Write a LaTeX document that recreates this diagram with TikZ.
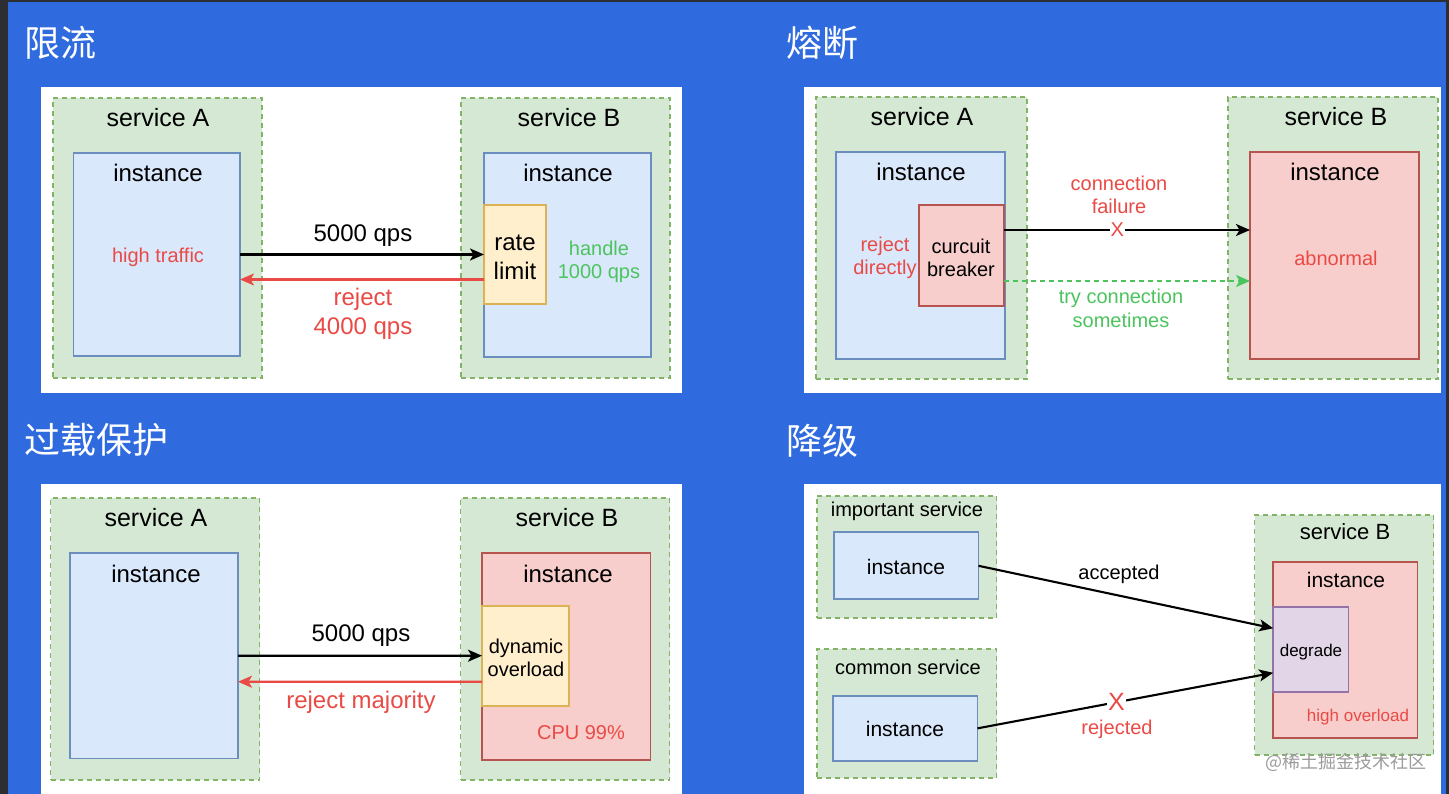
\documentclass[tikz,border=0pt]{standalone}
\usepackage{fontspec}
\setmainfont{Liberation Sans}
\newfontfamily\cjk{Noto Sans CJK SC}
\usetikzlibrary{arrows.meta}
\definecolor{frame}{HTML}{2C2E31}
\definecolor{bgblue}{HTML}{2F6BDF}
\definecolor{svcfill}{HTML}{D5E8D4}
\definecolor{svcline}{HTML}{82B366}
\definecolor{instfill}{HTML}{DAE8FC}
\definecolor{instline}{HTML}{6C8EBF}
\definecolor{badfill}{HTML}{F8CECC}
\definecolor{badline}{HTML}{B85450}
\definecolor{gatefill}{HTML}{FFEFCC}
\definecolor{gateline}{HTML}{DDB254}
\definecolor{degfill}{HTML}{E1D5E7}
\definecolor{degline}{HTML}{9673A6}
\definecolor{redtxt}{HTML}{EA4A45}
\definecolor{greentxt}{HTML}{4CC45E}
\definecolor{wmark}{HTML}{9C9C9C}
\newcommand\mybox[6]{%
  \node[#1, minimum width={(#5)-(#3)}, minimum height={(#6)-(#4)}, inner sep=0pt, outer sep=0pt]
    (#2) at ({((#3)+(#5))/2},{((#4)+(#6))/2}) {};}
\begin{document}
\begin{tikzpicture}[x=1pt,y=-1pt,
  panel/.style={fill=white, draw=none},
  svc/.style={fill=svcfill, draw=svcline, dash pattern=on 5pt off 4pt, line width=1.7pt},
  inst/.style={fill=instfill, draw=instline, line width=1.7pt},
  bad/.style={fill=badfill, draw=badline, line width=1.7pt},
  gate/.style={fill=gatefill, draw=gateline, line width=1.7pt},
  deg/.style={fill=degfill, draw=degline, line width=1.7pt},
  title/.style={anchor=west, text=white, inner sep=0pt, font=\cjk\fontsize{36}{40}\selectfont},
  big/.style={inner sep=0pt, align=center, font=\fontsize{25}{29}\selectfont},
  mid/.style={inner sep=0pt, align=center, font=\fontsize{24}{29}\selectfont},
  sml/.style={inner sep=0pt, align=center, font=\fontsize{20}{23}\selectfont},
  tiny/.style={inner sep=0pt, align=center, font=\fontsize{17}{20}\selectfont},
  arr/.style={-{Stealth[length=14pt,width=12pt,inset=3.5pt]}, line width=2.1pt},
  xmark/.style={fill=white, text=redtxt, inner sep=1pt},
]
\useasboundingbox (0,0) rectangle (1449,794);
\fill[frame] (0,0) rectangle (1449,794);
\fill[bgblue] (8,2) rectangle (1446,794);

% ---------------- panel 1 : rate limiting
\node[title] (t1) at (24,43) {限流};
\mybox{panel}{p1}{41}{87}{682}{393}
\mybox{svc}{svcA1}{53}{98}{262}{378}
\mybox{inst}{instA1}{73.5}{153}{240}{356}
\mybox{svc}{svcB1}{461}{98}{670}{378}
\mybox{inst}{instB1}{484}{153}{651}{357}
\mybox{gate}{rl1}{484}{205}{546}{304}
\node[big] (lsA1) at (158,118) {service A};
\node[mid] (liA1) at (158,173) {instance};
\node[sml, text=redtxt] (ht1) at (158,257) {high traffic};
\node[big] (lsB1) at (569,118) {service B};
\node[mid] (liB1) at (568,173) {instance};
\node[mid] (lrl1) at (515,257) {rate\\limit};
\node[sml, text=greentxt] (hd1) at (599,262) {handle\\1000 qps};
\draw[arr] (instA1.east) -- (rl1.west);
\draw[arr, draw=redtxt] ([yshift=-25pt]rl1.west) -- ([yshift=-25pt]instA1.east);
\node[mid] (q1) at (363,236) {5000 qps};
\node[mid, text=redtxt] (rj1) at (363,314) {reject\\4000 qps};

% ---------------- panel 2 : circuit breaking
\node[title] (t2) at (786,43) {熔断};
\mybox{panel}{p2}{804}{87}{1441}{393}
\mybox{svc}{svcA2}{816}{97}{1027}{379}
\mybox{inst}{instA2}{836}{152}{1005}{359}
\mybox{bad}{cb2}{919}{205}{1004}{306}
\mybox{svc}{svcB2}{1228}{97}{1438}{379}
\mybox{bad}{instB2}{1250}{152}{1419}{359}
\node[big] (lsA2) at (922,117) {service A};
\node[mid] (liA2) at (921,172) {instance};
\node[sml] (lcb2) at (961,258) {curcuit\\breaker};
\node[sml, text=redtxt] (rd2) at (885,258) {reject\\directly};
\node[big] (lsB2) at (1336,117) {service B};
\node[mid] (liB2) at (1335,172) {instance};
\node[sml, text=redtxt] (ab2) at (1336,258) {abnormal};
\draw[arr] ([yshift=25.5pt]cb2.east) -- node[pos=0.46, xmark, font=\fontsize{20}{23}\selectfont] (x2) {X} ([yshift=25.5pt]instB2.west);
\node[sml, text=redtxt] (cf2) at (1119,195) {connection\\failure};
\draw[arr, draw=greentxt, dash pattern=on 5pt off 4pt, line width=1.6pt] ([yshift=-25.5pt]cb2.east) -- ([yshift=-25.5pt]instB2.west);
\node[sml, text=greentxt, font=\fontsize{20}{24}\selectfont] (tc2) at (1121,308) {try connection\\sometimes};

% ---------------- panel 3 : overload protection
\node[title] (t3) at (24,440) {过载保护};
\mybox{panel}{p3}{41}{484}{682}{794}
\mybox{svc}{svcA3}{50.5}{498}{259.5}{780}
\mybox{inst}{instA3}{70}{553}{238}{758.5}
\mybox{svc}{svcB3}{460.5}{498}{669.5}{780}
\mybox{bad}{instB3}{482}{553}{650.5}{760}
\mybox{gate}{do3}{482}{605.7}{569}{705.7}
\node[big] (lsA3) at (156,518) {service A};
\node[mid] (liA3) at (156,574) {instance};
\node[big] (lsB3) at (567,518) {service B};
\node[mid] (liB3) at (568,574) {instance};
\node[sml] (ldo3) at (526,658) {dynamic\\overload};
\node[sml, text=redtxt] (cpu3) at (581,733) {CPU 99\%};
\draw[arr] (instA3.east) -- (do3.west);
\draw[arr, draw=redtxt] ([yshift=-26pt]do3.west) -- ([yshift=-26pt]instA3.east);
\node[mid] (q3) at (361,636) {5000 qps};
\node[mid, text=redtxt] (rm3) at (361,702) {reject majority};

% ---------------- panel 4 : degradation
\node[title] (t4) at (786,441) {降级};
\mybox{panel}{p4}{804}{484}{1441}{794}
\mybox{svc}{svcI4}{816.7}{495.7}{996.6}{618.3}
\mybox{inst}{instI4}{834}{532.3}{978.5}{599.3}
\mybox{svc}{svcC4}{816.7}{649}{996.6}{778.3}
\mybox{inst}{instC4}{833}{695.7}{977.5}{761}
\mybox{svc}{svcB4}{1254.6}{515}{1433.6}{755}
\mybox{bad}{instB4}{1273.2}{562.3}{1417.4}{738.3}
\mybox{deg}{deg4}{1273.2}{607.3}{1348.5}{692.3}
\node[sml] (lsI4) at (907,511) {important service};
\node[sml, font=\fontsize{21}{24}\selectfont] (liI4) at (906,567) {instance};
\node[sml] (lsC4) at (908,667) {common service};
\node[sml, font=\fontsize{21}{24}\selectfont] (liC4) at (905,729) {instance};
\node[sml, font=\fontsize{22}{26}\selectfont] (lsB4) at (1345,532) {service B};
\node[sml, font=\fontsize{21}{24}\selectfont] (liB4) at (1346,580) {instance};
\node[tiny] (ldeg4) at (1311,652) {degrade};
\node[tiny, text=redtxt] (ho4) at (1358,717) {high overload};
\draw[arr] (instI4.east) -- ([yshift=21.5pt]deg4.west);
\node[sml] (acc4) at (1119,574) {accepted};
\draw[arr] (instC4.east) -- node[pos=0.47, xmark, font=\fontsize{25}{28}\selectfont] (x4) {X} ([yshift=-23pt]deg4.west);
\node[sml, text=redtxt] (rej4) at (1117,729) {rejected};
\node[text=wmark, inner sep=0pt, font=\cjk\fontsize{18}{20}\selectfont] (wm) at (1346,762) {@稀土掘金技术社区};
\end{tikzpicture}
\end{document}
